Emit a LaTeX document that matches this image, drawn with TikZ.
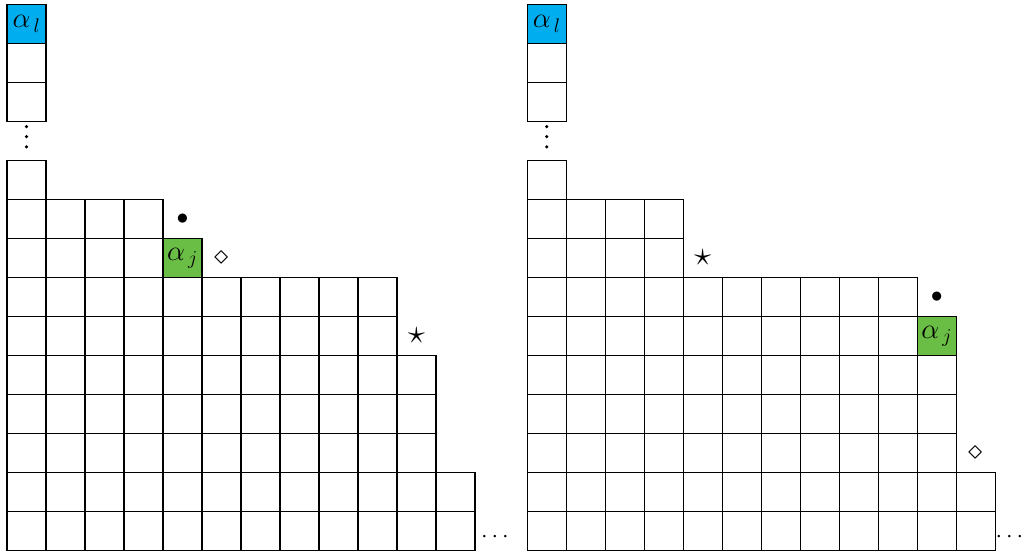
\documentclass[tikz,border=0pt]{standalone}
\definecolor{cellblue}{RGB}{0,174,239}
\definecolor{cellgreen}{RGB}{106,189,69}
\tikzset{
  cell/.style={draw=black,line width=0.8pt},
  bluecell/.style={cell,fill=cellblue},
  greencell/.style={cell,fill=cellgreen},
  lbl/.style={font=\fontsize{18}{21}\selectfont,inner sep=0pt},
  dotlab/.style={font=\fontsize{17}{20}\selectfont,inner sep=0pt},
  alab/.style={font=\fontsize{20}{24}\selectfont,inner sep=0pt},
  starlab/.style={font=\fontsize{27}{30}\selectfont,inner sep=0pt},
  dialab/.style={font=\fontsize{22}{25}\selectfont,inner sep=0pt},
  vdot/.style={fill=black}
}
\begin{document}
\begin{tikzpicture}[x=1cm,y=1cm]
\useasboundingbox (-0.1795,-0.09) rectangle (26.077,14.115);
% ---------- left diagram ----------
\begin{scope}
  \foreach \n [count=\r from 0] in {12,12,11,11,11,10,10,5,4,1}{
    \foreach \c in {1,...,\n}{\draw[cell] (\c-1,\r) rectangle (\c,\r+1);}
  }
  \draw[cell] (0,11) rectangle (1,12);
  \draw[cell] (0,12) rectangle (1,13);
  \draw[bluecell] (0,13) rectangle (1,14);
  \node[alab] (Lal) at (0.5,13.5) {$\alpha_{\,l}$};
  \fill[vdot] (0.5,10.87) circle (0.045);
  \fill[vdot] (0.5,10.61) circle (0.045);
  \fill[vdot] (0.5,10.35) circle (0.045);
  \draw[greencell] (4,7) rectangle (5,8);
  \node[alab] (Laj) at (4.5,7.5) {$\alpha_{\,j}$};
  \node[lbl] (Lbul) at (4.5,8.5) {$\bullet$};
  \node[dialab] (Ldia) at (5.5,7.5) {$\diamond$};
  \node[starlab] (Lstar) at (10.5,5.5) {$\star$};
  \node[dotlab,anchor=base west] (Ldots) at (12.15,0.2) {$\cdots$};
\end{scope}
% ---------- right diagram ----------
\begin{scope}[xshift=13.34cm]
  \foreach \n [count=\r from 0] in {12,12,11,11,11,11,10,4,4,1}{
    \foreach \c in {1,...,\n}{\draw[cell] (\c-1,\r) rectangle (\c,\r+1);}
  }
  \draw[cell] (0,11) rectangle (1,12);
  \draw[cell] (0,12) rectangle (1,13);
  \draw[bluecell] (0,13) rectangle (1,14);
  \node[alab] (Ral) at (0.5,13.5) {$\alpha_{\,l}$};
  \fill[vdot] (0.5,10.87) circle (0.045);
  \fill[vdot] (0.5,10.61) circle (0.045);
  \fill[vdot] (0.5,10.35) circle (0.045);
  \draw[greencell] (10,5) rectangle (11,6);
  \node[alab] (Raj) at (10.5,5.5) {$\alpha_{\,j}$};
  \node[lbl] (Rbul) at (10.5,6.5) {$\bullet$};
  \node[starlab] (Rstar) at (4.5,7.5) {$\star$};
  \node[dialab] (Rdia) at (11.5,2.5) {$\diamond$};
  \node[dotlab,anchor=base west] (Rdots) at (12.0,0.2) {$\cdots$};
\end{scope}
\end{tikzpicture}
\end{document}
